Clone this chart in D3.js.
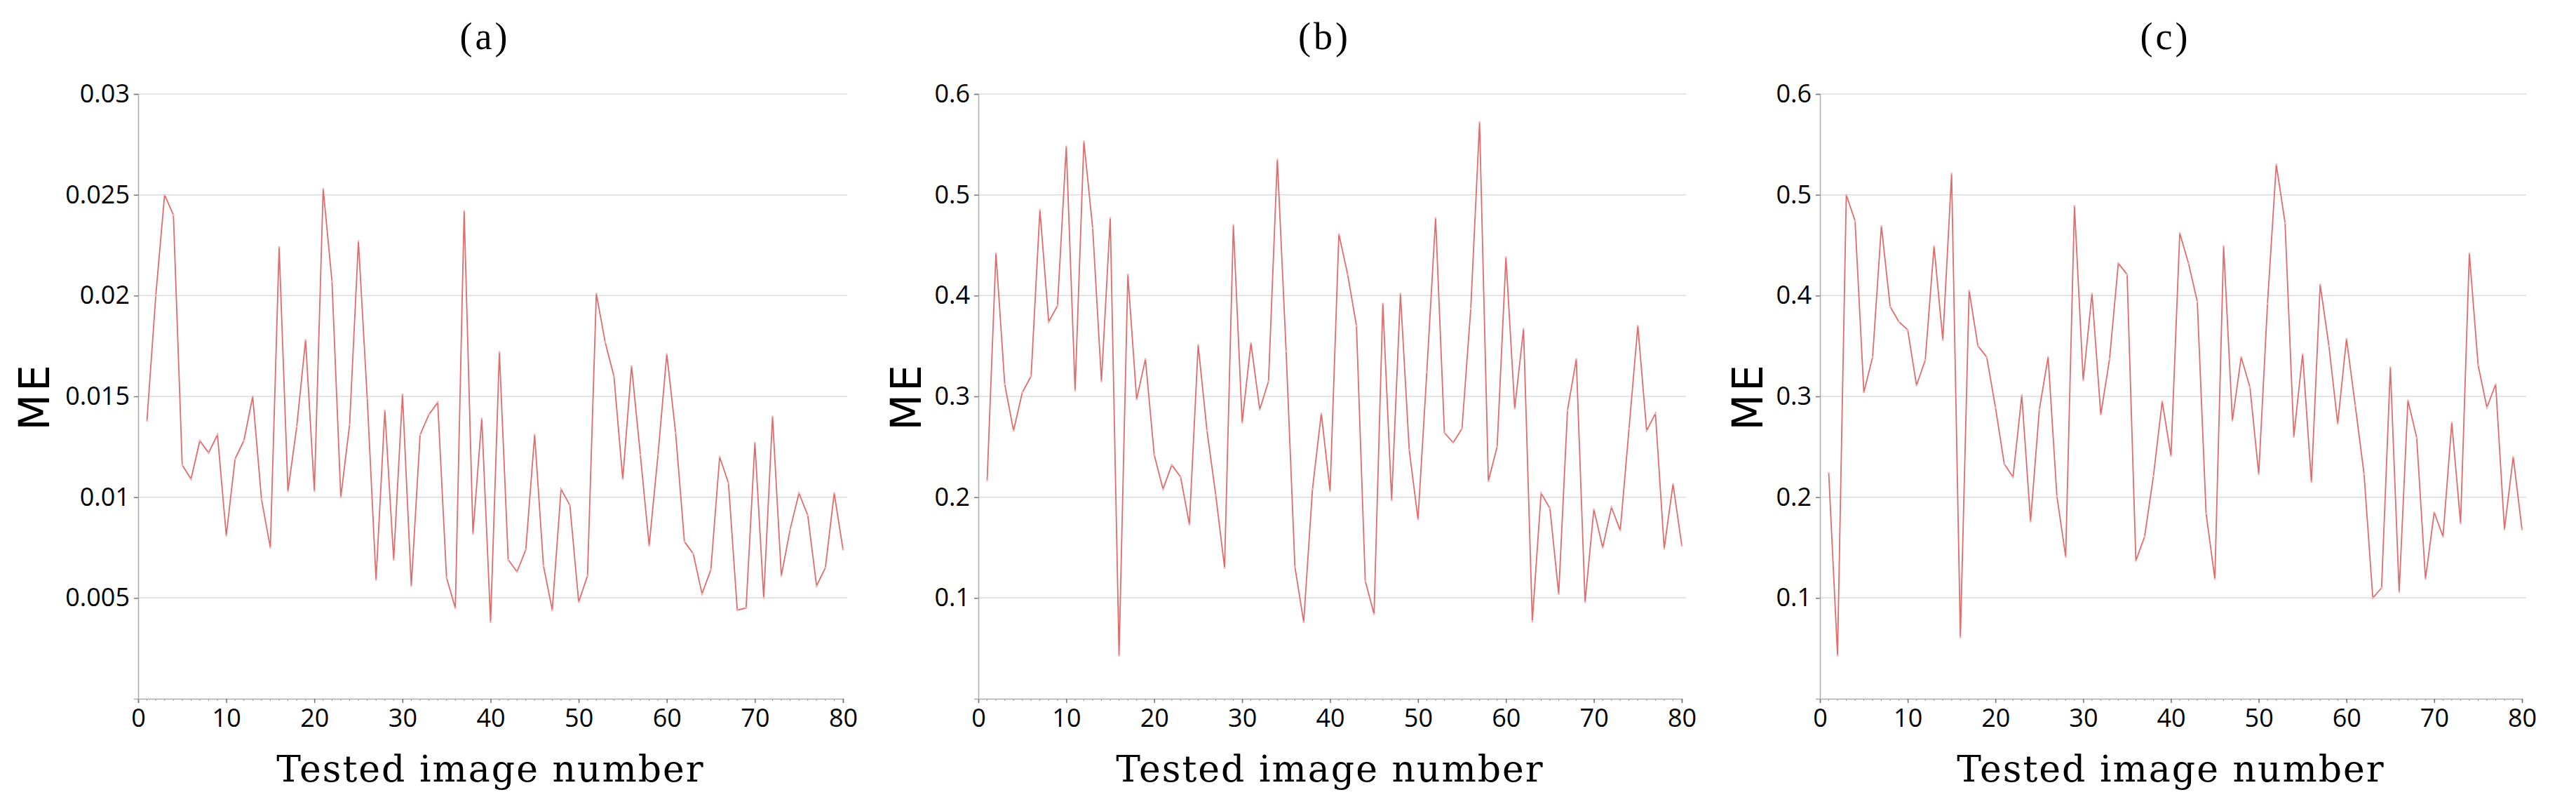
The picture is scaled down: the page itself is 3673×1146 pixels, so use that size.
<!DOCTYPE html>
<html>
<head>
<meta charset="utf-8">
<script src="https://cdn.jsdelivr.net/npm/d3@7"></script>
<style>
body { margin: 0; background: #fff; }
.tick text { font-family: "Open Sans", "Noto Sans", sans-serif; }
</style>
</head>
<body>
<div id="chart"></div>
<script>
// data
var panelTitles = ["(a)", "(b)", "(c)"];
var imageNumbers = d3.range(1, 81);
var xTicks = [0, 10, 20, 30, 40, 50, 60, 70, 80];

var meA = [0.0138, 0.020, 0.025, 0.024, 0.0116, 0.0109, 0.0128, 0.0122, 0.0131, 0.0081,
    0.0119, 0.0128, 0.015, 0.0099, 0.0075, 0.0224, 0.0103, 0.0135, 0.0178, 0.0103,
    0.0253, 0.0207, 0.010, 0.0136, 0.0227, 0.0149, 0.0059, 0.0143, 0.0069, 0.0151,
    0.0056, 0.0131, 0.0141, 0.0147, 0.006, 0.0045, 0.0242, 0.0082, 0.0139, 0.0038,
    0.0172, 0.0069, 0.0063, 0.0074, 0.0131, 0.0066, 0.0044, 0.0104, 0.0096, 0.0048,
    0.0061, 0.0201, 0.0177, 0.016, 0.0109, 0.0165, 0.0121, 0.0076, 0.0121, 0.0171,
    0.0132, 0.0078, 0.0072, 0.0052, 0.0064, 0.012, 0.0107, 0.0044, 0.0045, 0.0127,
    0.005, 0.014, 0.0061, 0.0084, 0.0102, 0.0091, 0.0056, 0.0065, 0.0102, 0.0074];

var meB = [0.217, 0.442, 0.312, 0.266, 0.304, 0.32, 0.485, 0.374, 0.39, 0.548,
    0.306, 0.553, 0.467, 0.315, 0.477, 0.043, 0.421, 0.297, 0.337, 0.242,
    0.208, 0.232, 0.22, 0.173, 0.351, 0.266, 0.202, 0.13, 0.47, 0.274,
    0.353, 0.287, 0.315, 0.535, 0.345, 0.131, 0.076, 0.208, 0.283, 0.206,
    0.461, 0.421, 0.37, 0.117, 0.084, 0.392, 0.197, 0.402, 0.247, 0.178,
    0.324, 0.477, 0.264, 0.254, 0.268, 0.387, 0.572, 0.216, 0.25, 0.438,
    0.288, 0.367, 0.077, 0.204, 0.189, 0.104, 0.286, 0.337, 0.096, 0.188,
    0.15, 0.19, 0.167, 0.268, 0.37, 0.266, 0.283, 0.149, 0.213, 0.152];

var meC = [0.224, 0.043, 0.5, 0.474, 0.304, 0.339, 0.469, 0.389, 0.374, 0.366,
    0.311, 0.336, 0.449, 0.356, 0.521, 0.061, 0.405, 0.35, 0.339, 0.289,
    0.233, 0.22, 0.301, 0.176, 0.287, 0.339, 0.201, 0.141, 0.489, 0.316,
    0.402, 0.282, 0.337, 0.432, 0.421, 0.137, 0.161, 0.221, 0.295, 0.241,
    0.462, 0.432, 0.394, 0.184, 0.119, 0.449, 0.276, 0.339, 0.309, 0.223,
    0.392, 0.53, 0.472, 0.26, 0.342, 0.215, 0.411, 0.35, 0.273, 0.357,
    0.291, 0.223, 0.1, 0.11, 0.329, 0.106, 0.296, 0.259, 0.119, 0.185,
    0.161, 0.274, 0.174, 0.442, 0.331, 0.289, 0.312, 0.168, 0.24, 0.168];

var yTicksA = [0.005, 0.01, 0.015, 0.02, 0.025, 0.03];
var yTicksBC = [0.1, 0.2, 0.3, 0.4, 0.5, 0.6];

var panels = [
    { title: panelTitles[0], values: meA, yMax: 0.03, yTicks: yTicksA, left: 197, right: 1202, labelOff: 148 },
    { title: panelTitles[1], values: meB, yMax: 0.6, yTicks: yTicksBC, left: 1395, right: 2398, labelOff: 103 },
    { title: panelTitles[2], values: meC, yMax: 0.6, yTicks: yTicksBC, left: 2595, right: 3596, labelOff: 103 }
];

var svgWidth = 3673, svgHeight = 1146;
var plotTop = 134, plotBottom = 996;

var svg = d3.select("#chart").append("svg")
    .attr("width", svgWidth)
    .attr("height", svgHeight);

panels.forEach(function (p) {
    var w = p.right - p.left;
    var h = plotBottom - plotTop;
    var g = svg.append("g").attr("transform", `translate(${p.left}, ${plotTop})`);

    var x = d3.scaleLinear().domain([0, 80]).range([0, w]);
    var y = d3.scaleLinear().domain([0, p.yMax]).range([h, 0]);

    // gridlines
    g.selectAll(".grid").data(p.yTicks).enter().append("line")
        .attr("x1", 0).attr("x2", w + 6)
        .attr("y1", d => y(d)).attr("y2", d => y(d))
        .attr("stroke", "#dcdcdc").attr("stroke-width", 1.5);

    // minor x ticks
    g.selectAll(".minor").data(d3.range(0, 81)).enter().append("line")
        .attr("x1", d => x(d)).attr("x2", d => x(d))
        .attr("y1", h).attr("y2", h + 3)
        .attr("stroke", "#999").attr("stroke-width", 1);

    var xAxis = g.append("g")
        .attr("transform", `translate(0, ${h})`)
        .call(d3.axisBottom(x).tickValues(xTicks).tickFormat(d3.format("d")).tickSize(6).tickPadding(8));
    var yAxis = g.append("g")
        .call(d3.axisLeft(y).tickValues(p.yTicks).tickFormat(d => String(+d.toFixed(3))).tickSize(6).tickPadding(6));

    [xAxis, yAxis].forEach(function (a) {
        a.select(".domain").attr("stroke", "#aaa").attr("stroke-width", 1.5);
        a.selectAll(".tick line").attr("stroke", "#777").attr("stroke-width", 1.5);
        a.selectAll(".tick text").attr("font-size", 36).attr("fill", "#000");
    });

    var line = d3.line()
        .x((d, i) => x(imageNumbers[i]))
        .y(d => y(d));

    g.append("path")
        .datum(p.values)
        .attr("d", line)
        .attr("fill", "none")
        .attr("stroke", "#e06c6c")
        .attr("stroke-width", 1.8);

    g.selectAll(".dot").data(p.values).enter().append("circle")
        .attr("cx", (d, i) => x(imageNumbers[i]))
        .attr("cy", d => y(d))
        .attr("r", 1.5)
        .attr("fill", "#f3b5b5");

    // titles
    g.append("text")
        .attr("x", w / 2 - 8).attr("y", -plotTop + 70)
        .attr("text-anchor", "middle")
        .attr("font-family", "'Liberation Serif', 'DejaVu Serif', serif")
        .attr("font-size", 54)
        .attr("letter-spacing", 4)
        .text(p.title);

    g.append("text")
        .attr("x", w / 2).attr("y", h + 118)
        .attr("text-anchor", "middle")
        .attr("font-family", "'DejaVu Serif', 'Liberation Serif', serif")
        .attr("font-size", 52)
        .attr("letter-spacing", 2)
        .text("Tested image number");

    g.append("text")
        .attr("transform", `translate(${-p.labelOff}, ${h / 2}) rotate(-90)`)
        .attr("text-anchor", "middle")
        .attr("dy", "0.35em")
        .attr("font-family", "'DejaVu Sans', sans-serif")
        .attr("font-size", 60)
        .attr("font-weight", 500)
        .attr("letter-spacing", 4)
        .text("ME");
});
</script>
</body>
</html>
